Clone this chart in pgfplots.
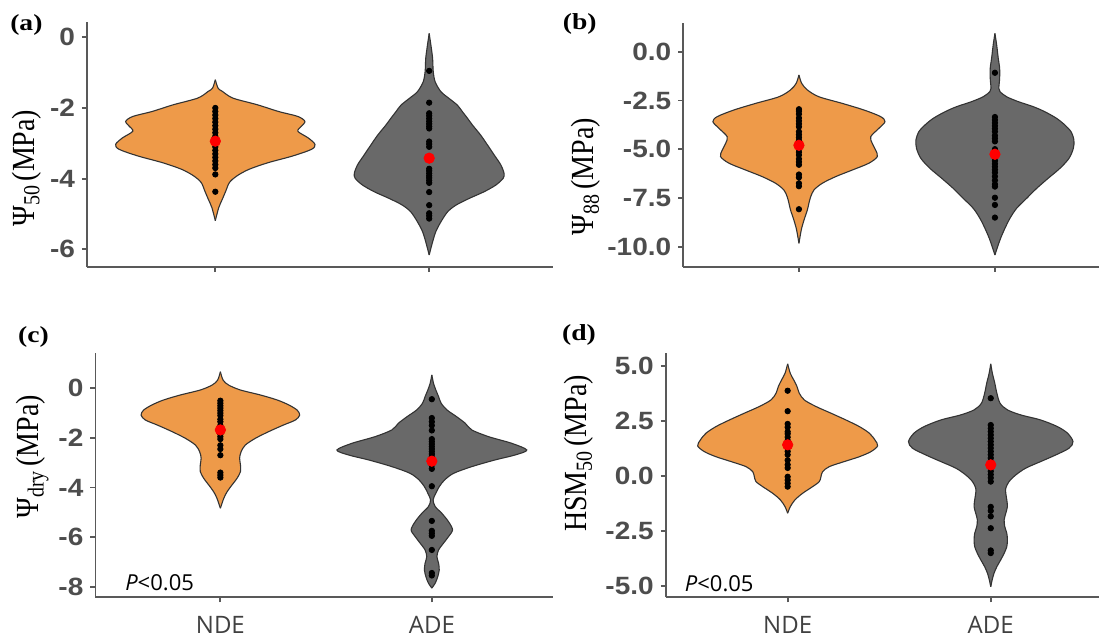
\documentclass[border=0pt]{standalone}
\usepackage{pgfplots}
\pgfplotsset{compat=1.18}
\usepackage{pgfplotstable}
\usepgfplotslibrary{fillbetween}
\usepackage{graphicx}
\usepackage{fontspec}
\setmainfont{Liberation Serif}
\newfontfamily\tickfont[FakeStretch=1.12]{Liberation Sans}
\newfontfamily\labfont[FakeStretch=1.2]{Liberation Serif}
\newfontfamily\osans{Open Sans}
\definecolor{vorange}{HTML}{EE9A49}
\definecolor{vgray}{HTML}{696969}
\definecolor{vline}{HTML}{333333}
\definecolor{axgray}{HTML}{595959}
\definecolor{tickgray}{HTML}{4D4D4D}
\definecolor{lblgray}{HTML}{404040}

% violin half-widths (x units) versus y
\pgfplotstableread{
y w
-1.20 0
-1.44 0.013
-1.53 0.033
-1.72 0.082
-1.91 0.197
-2.10 0.296
-2.24 0.386
-2.38 0.419
-2.52 0.402
-2.66 0.386
-2.85 0.435
-3.03 0.466
-3.17 0.450
-3.36 0.361
-3.55 0.246
-3.74 0.156
-3.93 0.099
-4.11 0.066
-4.35 0.049
-4.58 0.033
-4.82 0.016
-5.19 0
}\aN
\pgfplotstableread{
y w
0.11 0
-0.22 0.008
-0.59 0.016
-0.97 0.019
-1.26 0.028
-1.54 0.055
-1.73 0.093
-1.92 0.132
-2.11 0.156
-2.29 0.179
-2.48 0.202
-2.77 0.241
-3.05 0.273
-3.33 0.304
-3.61 0.335
-3.85 0.350
-3.99 0.346
-4.18 0.312
-4.37 0.257
-4.56 0.187
-4.75 0.125
-4.94 0.086
-5.22 0.055
-5.50 0.031
-5.79 0.016
-6.16 0
}\aA
\pgfplotstableread{
y w
-1.19 0
-1.62 0.014
-1.96 0.043
-2.31 0.102
-2.65 0.221
-2.99 0.332
-3.33 0.417
-3.59 0.439
-3.93 0.408
-4.36 0.366
-4.70 0.374
-5.04 0.391
-5.38 0.400
-5.72 0.357
-6.07 0.272
-6.41 0.187
-6.75 0.119
-7.09 0.077
-7.44 0.060
-7.77 0.051
-8.12 0.043
-8.63 0.026
-9.14 0.012
-9.83 0
}\bN
\pgfplotstableread{
y w
0.94 0
0.34 0.009
-0.34 0.017
-0.85 0.024
-1.36 0.024
-1.88 0.020
-2.05 0.026
-2.31 0.060
-2.56 0.119
-2.82 0.196
-3.08 0.255
-3.42 0.315
-3.76 0.357
-4.10 0.388
-4.53 0.403
-4.96 0.400
-5.47 0.378
-5.98 0.332
-6.49 0.272
-7.01 0.213
-7.52 0.162
-8.03 0.111
-8.54 0.077
-9.06 0.051
-9.57 0.029
-10.00 0.014
-10.43 0
}\bA
\pgfplotstableread{
y w
0.67 0
0.33 0.013
0.13 0.039
-0.07 0.095
-0.27 0.189
-0.47 0.268
-0.67 0.323
-0.88 0.363
-1.08 0.375
-1.28 0.355
-1.48 0.299
-1.75 0.228
-2.02 0.165
-2.29 0.118
-2.56 0.098
-2.82 0.091
-3.09 0.095
-3.36 0.095
-3.63 0.079
-3.90 0.055
-4.17 0.032
-4.44 0.016
-4.84 0
}\cN
\pgfplotstableread{
y w
0.54 0
0.20 0.008
-0.07 0.019
-0.34 0.032
-0.60 0.044
-0.87 0.071
-1.15 0.118
-1.41 0.158
-1.68 0.189
-1.95 0.268
-2.22 0.378
-2.49 0.449
-2.69 0.394
-2.89 0.299
-3.16 0.189
-3.43 0.103
-3.70 0.060
-3.97 0.035
-4.23 0.019
-4.50 0.006
-4.77 0.016
-5.04 0.047
-5.38 0.079
-5.71 0.098
-5.98 0.079
-6.25 0.055
-6.52 0.032
-6.79 0.024
-7.06 0.032
-7.33 0.035
-7.60 0.028
-7.86 0.016
-8.06 0
}\cA
\pgfplotstableread{
y w
5.08 0
4.65 0.013
4.35 0.030
4.05 0.046
3.75 0.057
3.44 0.082
3.14 0.140
2.84 0.213
2.53 0.287
2.23 0.353
1.93 0.402
1.62 0.430
1.35 0.443
1.09 0.410
0.86 0.353
0.64 0.279
0.41 0.205
0.18 0.172
-0.05 0.164
-0.27 0.156
-0.50 0.123
-0.80 0.074
-1.10 0.036
-1.41 0.013
-1.71 0
}\dN
\pgfplotstableread{
y w
5.08 0
4.65 0.008
4.20 0.020
3.75 0.030
3.29 0.046
2.99 0.082
2.76 0.148
2.53 0.246
2.23 0.328
1.93 0.378
1.55 0.405
1.25 0.386
0.94 0.320
0.64 0.246
0.34 0.172
0.03 0.123
-0.27 0.090
-0.57 0.074
-0.80 0.074
-1.10 0.079
-1.41 0.082
-1.71 0.074
-2.01 0.066
-2.32 0.069
-2.62 0.079
-2.92 0.082
-3.23 0.079
-3.53 0.066
-3.83 0.049
-4.14 0.030
-4.44 0.016
-4.74 0.007
-5.05 0
}\dA

\newcommand{\violin}[4]{%
  \addplot[draw=vline, line width=0.55pt, name path=#4R, smooth] table[x expr=#2+\thisrow{w}, y=y] {#1};
  \addplot[draw=vline, line width=0.55pt, name path=#4L, smooth] table[x expr=#2-\thisrow{w}, y=y] {#1};
  \addplot[fill=#3, draw=none] fill between[of=#4R and #4L];
}

\pgfplotsset{
  vstyle/.style={
    set layers,
    scale only axis, anchor=south west,
    axis x line*=bottom, axis y line*=left,
    axis line style={draw=axgray, line width=0.9pt},
    tick style={draw=axgray, line width=0.9pt},
    tick align=outside, major tick length=2.5pt,
    xtick={1,2},
    yticklabel style={font=\tickfont\bfseries\fontsize{12.5}{12.5}\selectfont, text=tickgray},
    xticklabel style={font=\osans\fontsize{12}{12}\selectfont, text=lblgray, yshift=-3.5pt},
  },
  dots/.style={only marks, mark=*, mark size=1.35pt, black, mark options={draw=black, fill=black}},
  mean/.style={only marks, mark=*, mark size=2.6pt, mark options={draw=red, fill=red}},
}

\begin{document}
\begin{tikzpicture}

% ---------------- (a)
\begin{axis}[vstyle, at={(43.5pt,186pt)}, width=233pt, height=122.5pt,
  xmin=0.4, xmax=2.579, ymin=-6.5, ymax=0.433,
  ytick={0,-2,-4,-6}, yticklabels={0,-2,-4,-6}, xticklabels={{},{}}]
\violin{\aN}{1}{vorange}{aN}
\violin{\aA}{2}{vgray}{aA}
\addplot[dots] coordinates {(1,-2.0)(1,-2.1)(1,-2.2)(1,-2.3)(1,-2.4)(1,-2.5)(1,-2.6)(1,-2.7)(1,-2.8)(1,-2.9)(1,-3.0)(1,-3.1)(1,-3.2)(1,-3.3)(1,-3.4)(1,-3.5)(1,-3.6)(1,-3.7)(1,-3.88)(1,-4.37)};
\addplot[dots] coordinates {(2,-0.95)(2,-1.85)(2,-2.15)(2,-2.22)(2,-2.3)(2,-2.38)(2,-2.45)(2,-2.52)(2,-2.58)(2,-2.95)(2,-3.02)(2,-3.1)(2,-3.72)(2,-3.78)(2,-3.85)(2,-3.92)(2,-3.98)(2,-4.05)(2,-4.12)(2,-4.38)(2,-4.75)(2,-4.98)(2,-5.05)(2,-5.13)};
\addplot[mean] coordinates {(1,-2.94)(2,-3.42)};
\end{axis}

% ---------------- (b)
\begin{axis}[vstyle, at={(341.65pt,186.15pt)}, width=207.85pt, height=122pt,
  xmin=0.41, xmax=2.531, ymin=-11.03, ymax=1.49,
  ytick={0,-2.5,-5,-7.5,-10}, yticklabels={0.0,-2.5,-5.0,-7.5,-10.0}, xticklabels={{},{}}]
\violin{\bN}{1}{vorange}{bN}
\violin{\bA}{2}{vgray}{bA}
\addplot[dots] coordinates {(1,-2.95)(1,-3.05)(1,-3.2)(1,-3.4)(1,-3.55)(1,-3.7)(1,-3.85)(1,-4.1)(1,-4.25)(1,-4.4)(1,-4.55)(1,-5.0)(1,-5.15)(1,-5.3)(1,-5.5)(1,-5.65)(1,-5.8)(1,-6.3)(1,-6.45)(1,-6.75)(1,-6.9)(1,-8.08)};
\addplot[dots] coordinates {(2,-1.08)(2,-3.35)(2,-3.5)(2,-3.65)(2,-3.8)(2,-3.95)(2,-4.1)(2,-4.3)(2,-4.45)(2,-4.6)(2,-5.0)(2,-5.15)(2,-5.45)(2,-5.6)(2,-5.75)(2,-5.9)(2,-6.05)(2,-6.2)(2,-6.4)(2,-6.6)(2,-6.8)(2,-6.92)(2,-7.49)(2,-7.86)(2,-8.51)};
\addplot[mean] coordinates {(1,-4.80)(2,-5.26)};
\end{axis}

% ---------------- (c)
\begin{axis}[vstyle, at={(47.7pt,20.85pt)}, width=228.8pt, height=122pt,
  xmin=0.409, xmax=2.573, ymin=-8.43, ymax=1.41,
  ytick={0,-2,-4,-6,-8}, yticklabels={0,-2,-4,-6,-8}, xticklabels={NDE,ADE}]
\violin{\cN}{1}{vorange}{cN}
\violin{\cA}{2}{vgray}{cA}
\addplot[dots] coordinates {(1,-0.5)(1,-0.6)(1,-0.7)(1,-0.8)(1,-0.9)(1,-1.0)(1,-1.1)(1,-1.25)(1,-1.35)(1,-1.5)(1,-1.7)(1,-1.85)(1,-1.95)(1,-2.05)(1,-2.3)(1,-2.45)(1,-2.7)(1,-3.4)(1,-3.5)(1,-3.6)};
\addplot[dots] coordinates {(2,-0.44)(2,-1.2)(2,-1.35)(2,-1.5)(2,-1.7)(2,-2.05)(2,-2.15)(2,-2.25)(2,-2.35)(2,-2.45)(2,-2.55)(2,-2.65)(2,-2.75)(2,-2.85)(2,-3.0)(2,-3.1)(2,-3.25)(2,-3.95)(2,-5.35)(2,-5.75)(2,-5.85)(2,-5.95)(2,-6.52)(2,-7.45)(2,-7.55)};
\addplot[mean] coordinates {(1,-1.68)(2,-2.94)};
\end{axis}

% ---------------- (d)
\begin{axis}[vstyle, at={(332.9pt,20.85pt)}, width=216.6pt, height=122pt,
  xmin=0.40, xmax=2.533, ymin=-5.53, ymax=5.56,
  ytick={5,2.5,0,-2.5,-5}, yticklabels={5.0,2.5,0.0,-2.5,-5.0}, xticklabels={NDE,ADE}]
\violin{\dN}{1}{vorange}{dN}
\violin{\dA}{2}{vgray}{dA}
\addplot[dots] coordinates {(1,3.86)(1,2.93)(1,2.35)(1,2.2)(1,2.0)(1,1.9)(1,1.75)(1,1.6)(1,1.45)(1,1.25)(1,1.1)(1,0.95)(1,0.7)(1,0.5)(1,0.35)(1,-0.05)(1,-0.2)(1,-0.35)(1,-0.5)};
\addplot[dots] coordinates {(2,3.52)(2,2.3)(2,2.15)(2,2.0)(2,1.85)(2,1.7)(2,1.55)(2,1.4)(2,1.25)(2,1.1)(2,0.95)(2,0.8)(2,0.65)(2,0.35)(2,0.2)(2,0.05)(2,-0.1)(2,-0.27)(2,-1.42)(2,-1.6)(2,-1.85)(2,-2.39)(2,-3.4)(2,-3.52)};
\addplot[mean] coordinates {(1,1.40)(2,0.49)};
\end{axis}

% ---------------- panel letters, y labels, P values
\node[font=\labfont\bfseries\fontsize{11.5}{12}\selectfont] at (13.2pt,307pt) {(a)};
\node[font=\labfont\bfseries\fontsize{11.5}{12}\selectfont] at (289.9pt,307.4pt) {(b)};
\node[font=\labfont\bfseries\fontsize{11.5}{12}\selectfont] at (16.7pt,151.2pt) {(c)};
\node[font=\labfont\bfseries\fontsize{11.5}{12}\selectfont] at (289.5pt,152pt) {(d)};

\node[rotate=90] at (13.2pt,235.4pt) {\scalebox{1}[1.15]{\fontsize{14}{14}\selectfont Ψ\raisebox{-0.35ex}{\fontsize{10}{10}\selectfont 50}\,(MPa)}};
\node[rotate=90] at (293pt,231.2pt) {\scalebox{1}[1.15]{\fontsize{14}{14}\selectfont Ψ\raisebox{-0.35ex}{\fontsize{10}{10}\selectfont 88}\,(MPa)}};
\node[rotate=90] at (16.2pt,91.2pt) {\scalebox{1}[1.15]{\fontsize{14}{14}\selectfont Ψ\raisebox{-0.35ex}{\fontsize{10}{10}\selectfont dry}\,(MPa)}};
\node[rotate=90] at (289.5pt,92.8pt) {\scalebox{1}[1.15]{\fontsize{14}{14}\selectfont HSM\raisebox{-0.35ex}{\fontsize{10}{10}\selectfont 50}\,(MPa)}};

\node[font=\osans\fontsize{11}{11}\selectfont] at (79.8pt,28pt) {\textit{P}<0.05};
\node[font=\osans\fontsize{11}{11}\selectfont] at (359.6pt,27.8pt) {\textit{P}<0.05};

\pgfresetboundingbox
\path[use as bounding box] (0pt,0pt) rectangle (549.5pt,319.5pt);
\end{tikzpicture}
\end{document}
